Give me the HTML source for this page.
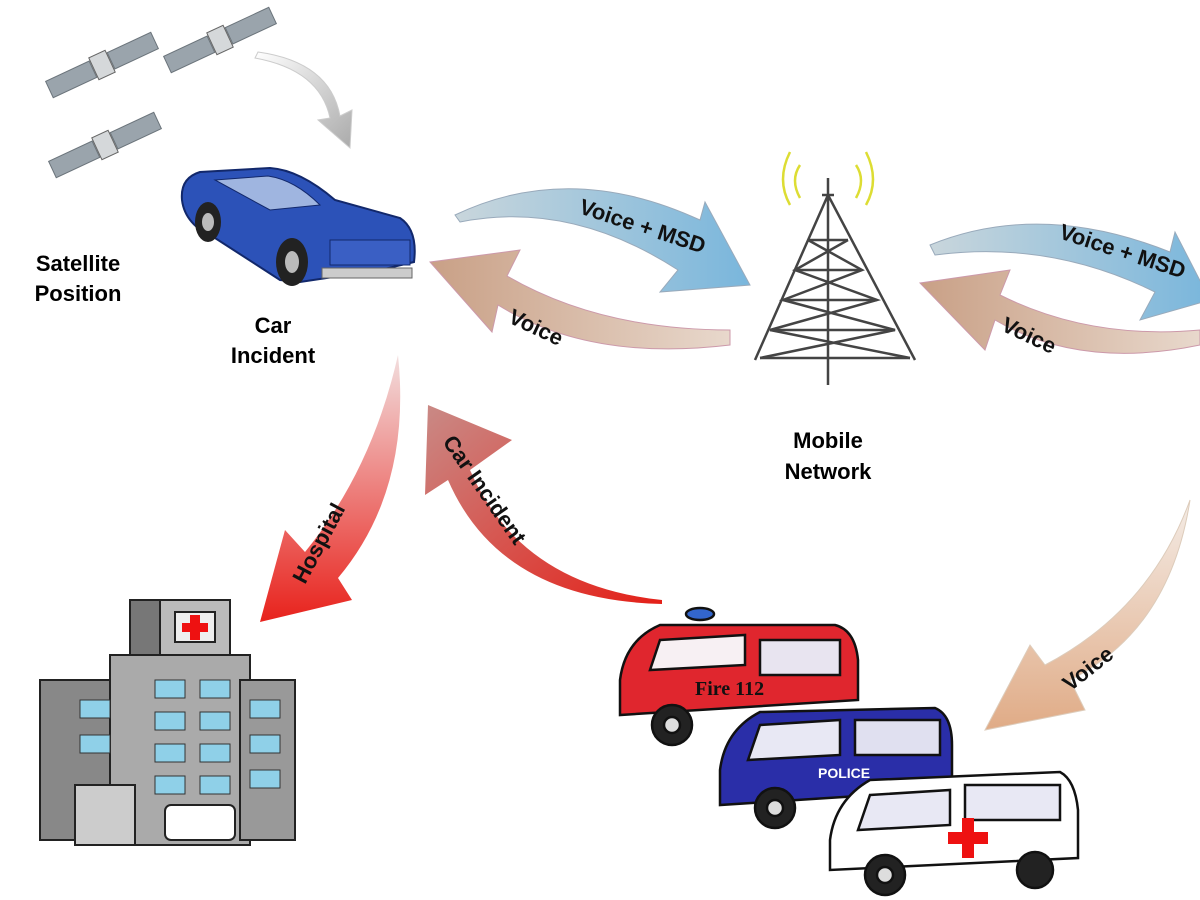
<!DOCTYPE html>
<html><head><meta charset="utf-8">
<style>
html,body{margin:0;padding:0;background:#fff;}
svg{display:block;}
text{font-family:"Liberation Sans",Arial,sans-serif;font-weight:bold;}
</style></head>
<body>
<svg width="1200" height="900" viewBox="0 0 1200 900" xmlns="http://www.w3.org/2000/svg">
<defs>
<linearGradient id="blu" x1="0" y1="0" x2="1" y2="0"><stop offset="0" stop-color="#c9d6dc"/><stop offset="1" stop-color="#79b6dc"/></linearGradient>
<linearGradient id="brn" x1="1" y1="0" x2="0" y2="0"><stop offset="0" stop-color="#e8d8cc"/><stop offset="1" stop-color="#c9a086"/></linearGradient>
<linearGradient id="brnv" x1="0" y1="0" x2="0" y2="1"><stop offset="0" stop-color="#f4ece6"/><stop offset="1" stop-color="#e0ab86"/></linearGradient>
<linearGradient id="redv" x1="0" y1="0" x2="0" y2="1"><stop offset="0" stop-color="#f2dede"/><stop offset="1" stop-color="#e8221c"/></linearGradient>
<linearGradient id="redh" x1="1" y1="1" x2="0" y2="0"><stop offset="0" stop-color="#e42018"/><stop offset="1" stop-color="#c98a86"/></linearGradient>
<linearGradient id="gry" x1="0" y1="0" x2="1" y2="1"><stop offset="0" stop-color="#fff"/><stop offset="1" stop-color="#aaa"/></linearGradient>
<g id="sat">
<rect x="-58" y="-9" width="48" height="18" fill="#9aa4ac" stroke="#6b747b" transform="rotate(-25)"/>
<rect x="10" y="-9" width="48" height="18" fill="#9aa4ac" stroke="#6b747b" transform="rotate(-25)"/>
<rect x="-9" y="-12" width="18" height="24" fill="#d5d8da" stroke="#666" transform="rotate(-25)"/>
</g>
</defs>

<use href="#sat" x="102" y="65"/>
<use href="#sat" x="220" y="40"/>
<use href="#sat" x="105" y="145"/>
<path d="M255,58 Q320,70 330,118 L318,120 L350,148 L352,110 L340,116 Q330,62 258,52 Z" fill="url(#gry)" stroke="#ccc"/>

<g>
<path d="M182,200 Q180,178 200,172 L270,168 Q300,170 335,200 L400,218 Q418,230 414,262 L380,270 L300,282 L280,280 L215,238 Q185,225 182,200Z" fill="#2c52b8" stroke="#12286b" stroke-width="2"/>
<path d="M215,180 L268,176 Q295,180 320,205 L270,210 Z" fill="#9fb5e0" stroke="#12286b"/>
<rect x="330" y="240" width="80" height="25" fill="#3a5fc4" stroke="#12286b"/>
<ellipse cx="208" cy="222" rx="13" ry="20" fill="#222"/>
<ellipse cx="292" cy="262" rx="16" ry="24" fill="#222"/>
<ellipse cx="292" cy="262" rx="7" ry="11" fill="#bbb"/>
<ellipse cx="208" cy="222" rx="6" ry="9" fill="#bbb"/>
<rect x="322" y="268" width="90" height="10" fill="#ccc" stroke="#666"/>
</g>

<text x="78" y="271" font-size="22" text-anchor="middle">Satellite</text>
<text x="78" y="301" font-size="22" text-anchor="middle">Position</text>
<text x="273" y="333" font-size="22" text-anchor="middle">Car</text>
<text x="273" y="363" font-size="22" text-anchor="middle">Incident</text>

<path d="M455,215 Q570,160 700,220 L705,202 L750,285 L660,292 L678,270 Q570,200 460,222 Z" fill="url(#blu)" stroke="#9ab" stroke-width="1"/>
<text x="0" y="0" font-size="22" fill="#111" transform="translate(578,213) rotate(18)">Voice + MSD</text>
<path d="M730,345 Q590,362 498,305 L492,332 L430,262 L520,250 L507,276 Q600,330 730,330 Z" fill="url(#brn)" stroke="#c9a" stroke-width="1"/>
<text font-size="22" fill="#111" transform="translate(507,322) rotate(25)">Voice</text>

<g stroke="#444" stroke-width="2.5" fill="none">
<path d="M828,195 L755,360 M828,195 L915,360 M828,195 L828,385"/>
<path d="M808,240 L848,240 M795,270 L862,270 M783,300 L877,300 M770,330 L895,330 M760,358 L910,358"/>
<path d="M808,240 L862,270 L783,300 L895,330 L760,358 M848,240 L795,270 L877,300 L770,330 L910,358"/>
<path d="M828,178 L828,200 M822,195 L834,195"/>
<path d="M800,165 Q790,180 800,198 M856,165 Q866,180 856,198" stroke="#dd3"/>
<path d="M790,152 Q776,180 790,205 M866,152 Q880,180 866,205" stroke="#dd3"/>
</g>
<text x="828" y="448" font-size="22" text-anchor="middle">Mobile</text>
<text x="828" y="479" font-size="22" text-anchor="middle">Network</text>

<path d="M930,245 Q1040,200 1170,252 L1175,232 L1210,300 L1140,320 L1155,292 Q1050,240 935,255 Z" fill="url(#blu)" stroke="#9ab"/>
<text font-size="22" fill="#111" transform="translate(1058,238) rotate(18)">Voice + MSD</text>
<path d="M1200,345 Q1080,370 995,320 L985,350 L920,283 L1010,270 L1000,295 Q1090,340 1200,330 Z" fill="url(#brn)" stroke="#c9a"/>
<text font-size="22" fill="#111" transform="translate(1000,330) rotate(25)">Voice</text>
<path d="M1190,500 Q1170,630 1070,680 L1085,710 L985,730 L1030,645 L1045,665 Q1150,610 1190,500 Z" fill="url(#brnv)" stroke="#dcb"/>
<text font-size="22" fill="#111" transform="translate(1070,692) rotate(-38)">Voice</text>

<path d="M398,355 Q412,490 338,578 L352,600 L260,622 L285,530 L305,552 Q372,470 398,355 Z" fill="url(#redv)"/>
<text font-size="22" fill="#111" transform="translate(305,585) rotate(-62)">Hospital</text>
<path d="M662,600 Q520,585 470,470 L512,440 L428,405 L425,495 L448,480 Q500,600 662,604 Z" fill="url(#redh)"/>
<text font-size="22" fill="#111" transform="translate(442,442) rotate(55)">Car Incident</text>

<g stroke="#222" stroke-width="2">
<rect x="130" y="600" width="100" height="60" fill="#777"/>
<rect x="160" y="600" width="70" height="60" fill="#bbb"/>
<rect x="175" y="612" width="40" height="30" fill="#eee"/>
<path d="M190,615 h10 v8 h8 v9 h-8 v8 h-10 v-8 h-8 v-9 h8z" fill="#e11" stroke="none"/>
<rect x="40" y="680" width="90" height="160" fill="#888"/>
<rect x="110" y="655" width="140" height="190" fill="#aaa"/>
<rect x="240" y="680" width="55" height="160" fill="#999"/>
<rect x="75" y="785" width="60" height="60" fill="#ccc"/>
</g>
<g fill="#8fd0e8" stroke="#333">
<rect x="155" y="680" width="30" height="18"/><rect x="200" y="680" width="30" height="18"/>
<rect x="155" y="712" width="30" height="18"/><rect x="200" y="712" width="30" height="18"/>
<rect x="155" y="744" width="30" height="18"/><rect x="200" y="744" width="30" height="18"/>
<rect x="155" y="776" width="30" height="18"/><rect x="200" y="776" width="30" height="18"/>
<rect x="250" y="700" width="30" height="18"/><rect x="250" y="735" width="30" height="18"/><rect x="250" y="770" width="30" height="18"/>
<rect x="80" y="700" width="30" height="18"/><rect x="80" y="735" width="30" height="18"/>
</g>
<rect x="165" y="805" width="70" height="35" rx="6" fill="#fff" stroke="#222" stroke-width="2"/>

<g stroke="#111" stroke-width="2.5">
<path d="M620,680 Q625,640 660,625 L835,625 Q855,630 858,660 L858,700 L620,715 Z" fill="#e0262e"/>
<path d="M660,640 L745,635 L745,665 L650,670 Z" fill="#f7f0f3"/>
<rect x="760" y="640" width="80" height="35" fill="#e8e4f0"/>
<circle cx="672" cy="725" r="20" fill="#222"/><circle cx="672" cy="725" r="8" fill="#ddd"/>
<ellipse cx="700" cy="614" rx="14" ry="6" fill="#36c"/>
</g>
<text x="695" y="695" font-size="20" style="font-family:'Liberation Serif',serif" fill="#111">Fire 112</text>
<g stroke="#111" stroke-width="2.5">
<path d="M720,770 Q725,730 760,712 L935,708 Q952,715 952,745 L952,790 L720,805 Z" fill="#2a2ea8"/>
<path d="M760,725 L840,720 L840,755 L748,760 Z" fill="#e8e8f4"/>
<rect x="855" y="720" width="85" height="35" fill="#e0e0f0"/>
<circle cx="775" cy="808" r="20" fill="#222"/><circle cx="775" cy="808" r="8" fill="#ddd"/>
</g>
<text x="818" y="778" font-size="14" fill="#fff">POLICE</text>
<g stroke="#111" stroke-width="2.5">
<path d="M830,840 Q835,800 870,780 L1060,772 Q1075,780 1078,810 L1078,858 L830,870 Z" fill="#fff"/>
<path d="M870,795 L950,790 L950,825 L858,830 Z" fill="#e8e8f4"/>
<rect x="965" y="785" width="95" height="35" fill="#e8e8f4"/>
<circle cx="885" cy="875" r="20" fill="#222"/><circle cx="885" cy="875" r="8" fill="#ddd"/>
<circle cx="1035" cy="870" r="18" fill="#222"/>
</g>
<path d="M962,818 h12 v14 h14 v12 h-14 v14 h-12 v-14 h-14 v-12 h14z" fill="#e11"/>
</svg>
</body></html>
